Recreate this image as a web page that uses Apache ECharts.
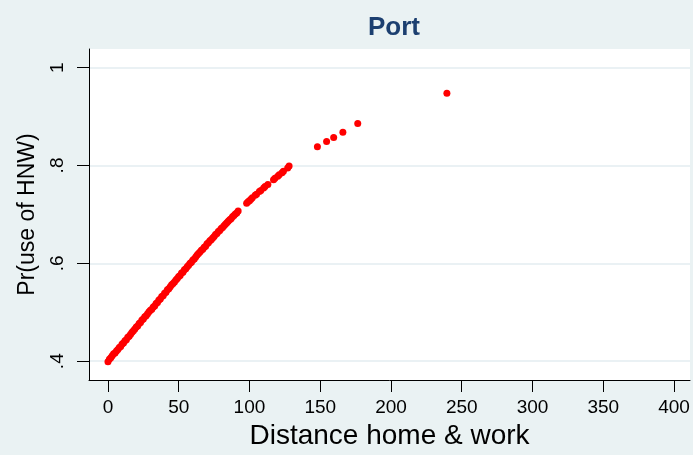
<!DOCTYPE html>
<html>
<head>
<meta charset="utf-8">
<script src="https://cdn.jsdelivr.net/npm/echarts@6/dist/echarts.min.js"></script>
<style>
  html, body { margin: 0; padding: 0; background: #eaf2f3; }
  #chart { width: 693px; height: 455px; }
</style>
</head>
<body>
<div id="chart"></div>
<script>
// Distance between home and work (x) and predicted probability of using HNW (y)
const dist = [
  0, 1, 2, 3, 4, 5, 6, 7, 8, 9, 10, 11, 12, 13, 14, 15, 16, 17, 18, 19,
  20, 21, 22, 23, 24, 25, 26, 27, 28, 29, 30, 31, 32, 33, 34, 35, 36, 37, 38, 39,
  40, 41, 42, 43, 44, 45, 46, 47, 48, 49, 50, 51, 52, 53, 54, 55, 56, 57, 58, 59,
  60, 61, 62, 63, 64, 65, 66, 67, 68, 69, 70, 71, 72, 73, 74, 75, 76, 77, 78, 79,
  80, 81, 82, 83, 84, 85, 86, 87, 88, 89, 90, 91, 92,
  98, 99, 100, 101, 102, 104, 105, 107, 108, 110, 111, 113, 117, 118, 120, 121, 123, 124, 127, 128,
  148, 154.5, 159.5, 166, 176.5, 239.5
];
const prob = [
  .399, .404, .407, .411, .415, .417, .421, .424, .428, .430, .435, .437, .442, .444, .449, .451, .455, .459, .462, .466,
  .470, .472, .477, .479, .484, .486, .491, .493, .497, .501, .504, .506, .511, .513, .518, .520, .525, .527, .532, .534,
  .539, .541, .546, .548, .552, .556, .559, .562, .566, .569, .573, .575, .580, .582, .587, .589, .593, .596, .600, .602,
  .607, .609, .613, .617, .620, .623, .627, .629, .633, .635, .640, .642, .646, .648, .652, .655, .659, .661, .665, .667,
  .671, .673, .677, .680, .683, .686, .689, .691, .695, .698, .701, .703, .707,
  .723, .726, .728, .731, .734, .739, .741, .747, .749, .754, .757, .761, .771, .774, .778, .781, .785, .788, .795, .799,
  .838, .849, .857, .868, .886, .9475
];

// Tick positions and their printed labels
const xTicks = [0, 50, 100, 150, 200, 250, 300, 350, 400];
const yTicks = [0.4, 0.6, 0.8, 1];
const yTickLabels = ['.4', '.6', '.8', '1'];

const points = dist.map((d, i) => [d, prob[i]]);

const chart = echarts.init(document.getElementById('chart'), null, { renderer: 'canvas' });
const font = '"Liberation Sans", Arial, sans-serif';

chart.setOption({
  backgroundColor: '#eaf2f3',
  animation: false,
  title: {
    text: 'Port',
    left: 363,
    top: 10,
    textStyle: { fontFamily: font, fontSize: 26, fontWeight: 'bold', color: '#1c3f70' }
  },
  grid: {
    left: 89, top: 49, width: 601, height: 335,
    show: true, backgroundColor: '#ffffff', borderWidth: 0
  },
  xAxis: {
    type: 'value',
    min: -13.4, max: 411.3,
    name: 'Distance home & work',
    nameLocation: 'middle',
    nameGap: 42,
    nameTextStyle: { fontFamily: font, fontSize: 28, color: '#000' },
    axisLine: { show: true, onZero: false, lineStyle: { color: '#000', width: 1 } },
    axisTick: { show: true, length: 12, customValues: xTicks, lineStyle: { color: '#000' } },
    axisLabel: { customValues: xTicks, margin: 18, fontFamily: font, fontSize: 19, color: '#000' },
    splitLine: { show: false }
  },
  yAxis: {
    type: 'value',
    min: 0.3616, max: 1.038,
    name: 'Pr(use of HNW)',
    nameLocation: 'middle',
    nameGap: 50,
    nameTextStyle: { fontFamily: font, fontSize: 23, color: '#000' },
    axisLine: { show: true, onZero: false, lineStyle: { color: '#000', width: 1 } },
    axisTick: { show: true, length: 12, customValues: yTicks, lineStyle: { color: '#000' } },
    axisLabel: {
      customValues: yTicks,
      rotate: 90,
      margin: 22,
      fontFamily: font, fontSize: 19, color: '#000',
      formatter: v => yTickLabels[yTicks.findIndex(t => Math.abs(t - v) < 1e-6)] ?? ''
    },
    splitLine: { show: true, lineStyle: { color: '#e3edf0', width: 1.5 } }
  },
  series: [{
    type: 'scatter',
    data: points,
    symbol: 'circle',
    symbolSize: 7,
    itemStyle: { color: '#ff0000', opacity: 1 }
  }]
});
</script>
</body>
</html>
